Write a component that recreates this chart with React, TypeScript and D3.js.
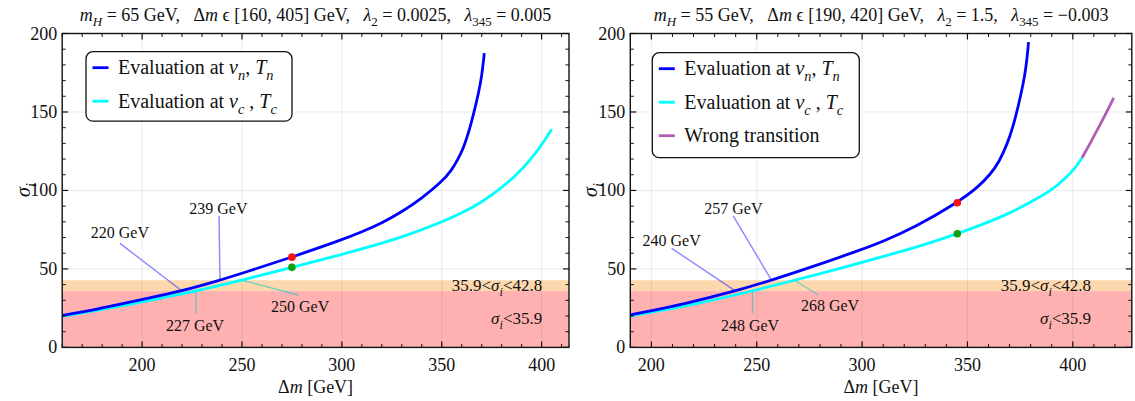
import React from "react";
import * as d3 from "d3";

const W = 1135;
const H = 401;
const FONT = "'Liberation Serif', 'Times New Roman', serif";

// ---------- left panel: m_H = 65 GeV ----------
const leftNucDm = [160, 170, 185, 200, 220, 239, 250, 275, 300, 310, 320, 330, 340, 350, 355, 358, 361, 363.5, 366, 368.5, 370, 371.3];
const leftNucSigma = [20.4, 22.5, 26.5, 30.6, 35.9, 42.8, 47.2, 57.5, 68.5, 73.6, 79.2, 86.3, 95, 105.5, 113, 119.5, 127.5, 137, 149, 162.5, 172.5, 187.5];
const leftCritDm = [160, 185, 200, 227, 250, 275, 300, 320, 335, 350, 360, 370, 380, 390, 398, 405];
const leftCritSigma = [19.8, 25.3, 29.0, 35.9, 42.8, 51, 59.2, 66.2, 72.5, 79.8, 85.5, 92.5, 101.5, 113, 125, 139];
const leftBenchmark = { dm: 275, nuc: 57.5, crit: 51 };

// ---------- right panel: m_H = 55 GeV ----------
const rightNucDm = [190, 200, 215, 240, 257, 278, 300, 309, 325, 345.2, 355, 361, 365, 369, 371.5, 374, 376.5, 378, 379];
const rightNucSigma = [20.8, 23.3, 27.5, 35.9, 42.8, 52, 62.5, 67, 76.5, 92.2, 102, 110.5, 118, 130, 140, 153, 168, 180, 194.5];
const rightCritDm = [190, 200, 220, 248, 268, 290, 309, 330, 345.2, 360, 370, 380, 390, 397, 401, 404.4];
const rightCritSigma = [20, 22.3, 27.3, 35.9, 42.8, 50.5, 57.5, 65.5, 72.4, 79.8, 85.5, 92.5, 100, 108.5, 114, 120.8];
const rightWrongDm = [404.4, 408, 412, 416, 419.4];
const rightWrongSigma = [120.8, 129.5, 139.5, 149.7, 159];
const rightBenchmark = { dm: 345.2, nuc: 92.2, crit: 72.4 };

// ---------- bands ----------
const bandLow = 35.9;
const bandHigh = 42.8;

// ---------- axis ticks ----------
const yMajorTicks = [0, 50, 100, 150, 200];
const xMajorTicks = [200, 250, 300, 350, 400];

const BLUE = "#0000ff";
const CYAN = "#00ffff";
const PURPLE = "#b05db5";
const PEACH = "#fdd7ae";
const PINK = "#ffb1b1";

type Seg = { t: string; i?: boolean; sub?: boolean };

function Rich({ segs, x, y, size, anchor = "start", transform }: {
  segs: Seg[]; x: number; y: number; size: number; anchor?: string; transform?: string;
}) {
  const shift = size * 0.3;
  let inSub = false;
  return (
    <text x={x} y={y} fontSize={size} fontFamily={FONT} textAnchor={anchor}
      transform={transform} style={{ whiteSpace: "pre" }} fill="#111">
      {segs.map((s, k) => {
        let dy = 0;
        if (s.sub && !inSub) dy = shift;
        if (!s.sub && inSub) dy = -shift;
        inSub = !!s.sub;
        return (
          <tspan key={k} dy={dy || undefined} fontStyle={s.i ? "italic" : "normal"}
            fontSize={s.sub ? size * 0.72 : size}>{s.t}</tspan>
        );
      })}
    </text>
  );
}

type Annot = { text: string; at: [number, number]; from: [number, number]; label: [number, number]; color: string };

type PanelCfg = {
  id: string;
  xDomain: [number, number];
  xRange: [number, number];
  title: Seg[];
  curves: { dm: number[]; sigma: number[]; color: string }[];
  bench: { dm: number; nuc: number; crit: number };
  annots: Annot[];
  bandLabelDm: number;
  legend: { x: number; y: number; w: number; h: number; items: { color: string; segs: Seg[] }[] };
  yLabelX: number;
};

function Panel({ cfg }: { cfg: PanelCfg }) {
  const [x0, x1] = cfg.xRange;
  const yTop = 33.5;
  const yBot = 347.4;
  const x = d3.scaleLinear().domain(cfg.xDomain).range(cfg.xRange);
  const y = d3.scaleLinear().domain([0, 200]).range([yBot, yTop]);
  const line = d3.line<[number, number]>().x(d => x(d[0])).y(d => y(d[1])).curve(d3.curveBasis);

  const xMinor = d3.range(Math.ceil(cfg.xDomain[0] / 10) * 10, cfg.xDomain[1] + 0.001, 10).filter(v => v % 50 !== 0);
  const yMinor = d3.range(0, 201, 10).filter(v => v % 50 !== 0);
  const clipId = `clip-${cfg.id}`;
  const midX = (x0 + x1) / 2;

  return (
    <g>
      <defs>
        <clipPath id={clipId}>
          <rect x={x0} y={yTop} width={x1 - x0} height={yBot - yTop} />
        </clipPath>
      </defs>
      <g clipPath={`url(#${clipId})`}>
        <rect x={x0} y={y(bandLow)} width={x1 - x0} height={yBot - y(bandLow)} fill={PINK} />
        <rect x={x0} y={y(bandHigh)} width={x1 - x0} height={y(bandLow) - y(bandHigh)} fill={PEACH} />
        {xMajorTicks.map(v => (
          <line key={`gx${v}`} x1={x(v)} x2={x(v)} y1={yTop} y2={yBot} stroke="#000" strokeOpacity={0.08} strokeWidth={1} />
        ))}
        {[50, 100, 150].map(v => (
          <line key={`gy${v}`} x1={x0} x2={x1} y1={y(v)} y2={y(v)} stroke="#000" strokeOpacity={0.08} strokeWidth={1} />
        ))}
        {cfg.annots.map((a, k) => (
          <line key={`al${k}`} x1={x(a.from[0])} y1={y(a.from[1])} x2={x(a.at[0])} y2={y(a.at[1])}
            stroke={a.color} strokeWidth={1.4} />
        ))}
        {cfg.curves.map((c, k) => (
          <path key={`c${k}`} d={line(c.dm.map((d, j) => [d, c.sigma[j]] as [number, number])) || ""}
            fill="none" stroke={c.color} strokeWidth={2.8} strokeLinecap="butt" />
        ))}
        <circle cx={x(cfg.bench.dm)} cy={y(cfg.bench.nuc)} r={3.8} fill="#ff1010" />
        <circle cx={x(cfg.bench.dm)} cy={y(cfg.bench.crit)} r={3.8} fill="#10a010" />
      </g>

      {cfg.annots.map((a, k) => (
        <text key={`at${k}`} x={x(a.label[0])} y={y(a.label[1]) + 5.5} textAnchor="middle"
          fontFamily={FONT} fontSize={16} fill="#111">{a.text}</text>
      ))}

      <Rich x={x(cfg.bandLabelDm)} y={y((bandLow + bandHigh) / 2) + 5.5} size={17} anchor="end"
        segs={[{ t: "35.9<" }, { t: "σ", i: true }, { t: "i", i: true, sub: true }, { t: "<42.8" }]} />
      <Rich x={x(cfg.bandLabelDm)} y={y(18.7) + 5.5} size={17} anchor="end"
        segs={[{ t: "σ", i: true }, { t: "i", i: true, sub: true }, { t: "<35.9" }]} />

      {/* frame */}
      <rect x={x0} y={yTop} width={x1 - x0} height={yBot - yTop} fill="none" stroke="#111" strokeWidth={1.4} />
      {/* ticks, pointing inward on all four sides */}
      {xMajorTicks.map(v => (
        <g key={`xt${v}`}>
          <line x1={x(v)} x2={x(v)} y1={yBot} y2={yBot - 6} stroke="#111" strokeWidth={1.2} />
          <line x1={x(v)} x2={x(v)} y1={yTop} y2={yTop + 6} stroke="#111" strokeWidth={1.2} />
          <text x={x(v)} y={371} textAnchor="middle" fontFamily={FONT} fontSize={18} fill="#111">{v}</text>
        </g>
      ))}
      {xMinor.map(v => (
        <g key={`xm${v}`}>
          <line x1={x(v)} x2={x(v)} y1={yBot} y2={yBot - 3.5} stroke="#111" strokeWidth={1} />
          <line x1={x(v)} x2={x(v)} y1={yTop} y2={yTop + 3.5} stroke="#111" strokeWidth={1} />
        </g>
      ))}
      {yMajorTicks.map(v => (
        <g key={`yt${v}`}>
          <line x1={x0} x2={x0 + 6} y1={y(v)} y2={y(v)} stroke="#111" strokeWidth={1.2} />
          <line x1={x1} x2={x1 - 6} y1={y(v)} y2={y(v)} stroke="#111" strokeWidth={1.2} />
          <text x={x0 - 5} y={y(v) + 6} textAnchor="end" fontFamily={FONT} fontSize={18} fill="#111">{v}</text>
        </g>
      ))}
      {yMinor.map(v => (
        <g key={`ym${v}`}>
          <line x1={x0} x2={x0 + 3.5} y1={y(v)} y2={y(v)} stroke="#111" strokeWidth={1} />
          <line x1={x1} x2={x1 - 3.5} y1={y(v)} y2={y(v)} stroke="#111" strokeWidth={1} />
        </g>
      ))}

      {/* legend */}
      <rect x={cfg.legend.x} y={cfg.legend.y} width={cfg.legend.w} height={cfg.legend.h} rx={7}
        fill="#fff" stroke="#111" strokeWidth={1.3} />
      {cfg.legend.items.map((it, k) => {
        const ly = cfg.legend.y + 16 + k * 33.5;
        return (
          <g key={`lg${k}`}>
            <line x1={cfg.legend.x + 6.5} x2={cfg.legend.x + 22.5} y1={ly} y2={ly} stroke={it.color} strokeWidth={2.8} />
            <Rich x={cfg.legend.x + 32} y={ly + 6.5} size={20} segs={it.segs} />
          </g>
        );
      })}

      {/* titles and axis labels */}
      <Rich x={midX} y={21} size={18} anchor="middle" segs={cfg.title} />
      <Rich x={midX} y={393} size={18} anchor="middle"
        segs={[{ t: "Δ" }, { t: "m", i: true }, { t: " [GeV]" }]} />
      <Rich x={0} y={0} size={20} anchor="middle" transform={`translate(${cfg.yLabelX},190) rotate(-90)`}
        segs={[{ t: "σ", i: true }, { t: "i", i: true, sub: true }]} />
    </g>
  );
}

const legendNuc: Seg[] = [{ t: "Evaluation at " }, { t: "v", i: true }, { t: "n", i: true, sub: true }, { t: ", " }, { t: "T", i: true }, { t: "n", i: true, sub: true }];
const legendCrit: Seg[] = [{ t: "Evaluation at " }, { t: "v", i: true }, { t: "c", i: true, sub: true }, { t: " , " }, { t: "T", i: true }, { t: "c", i: true, sub: true }];
const legendWrong: Seg[] = [{ t: "Wrong transition" }];

const BLUE_PTR = "rgba(40,40,255,0.55)";
const CYAN_PTR = "rgba(0,200,200,0.55)";

const leftCfg: PanelCfg = {
  id: "left",
  xDomain: [160, 413.7],
  xRange: [62.2, 569],
  title: [
    { t: "m", i: true }, { t: "H", i: true, sub: true }, { t: " = 65 GeV,   Δ" }, { t: "m", i: true },
    { t: " ϵ [160, 405] GeV,   " }, { t: "λ", i: true }, { t: "2", sub: true }, { t: " = 0.0025,   " },
    { t: "λ", i: true }, { t: "345", sub: true }, { t: " = 0.005" },
  ],
  curves: [
    { dm: leftCritDm, sigma: leftCritSigma, color: CYAN },
    { dm: leftNucDm, sigma: leftNucSigma, color: BLUE },
  ],
  bench: leftBenchmark,
  annots: [
    { text: "220 GeV", at: [220, 35.9], from: [188.9, 66.3], label: [188.9, 73.1], color: BLUE_PTR },
    { text: "239 GeV", at: [239, 42.8], from: [238.5, 83.7], label: [238.2, 88.6], color: BLUE_PTR },
    { text: "227 GeV", at: [227, 35.9], from: [227, 21.7], label: [226.5, 13.8], color: CYAN_PTR },
    { text: "250 GeV", at: [250, 42.8], from: [278.2, 33.4], label: [279.1, 25.9], color: CYAN_PTR },
  ],
  bandLabelDm: 400.3,
  legend: { x: 86, y: 51.7, w: 206, h: 69.5, items: [
    { color: BLUE, segs: legendNuc },
    { color: CYAN, segs: legendCrit },
  ] },
  yLabelX: 30,
};

const rightCfg: PanelCfg = {
  id: "right",
  xDomain: [190, 428],
  xRange: [630.3, 1131.8],
  title: [
    { t: "m", i: true }, { t: "H", i: true, sub: true }, { t: " = 55 GeV,   Δ" }, { t: "m", i: true },
    { t: " ϵ [190, 420] GeV,   " }, { t: "λ", i: true }, { t: "2", sub: true }, { t: " = 1.5,   " },
    { t: "λ", i: true }, { t: "345", sub: true }, { t: " = −0.003" },
  ],
  curves: [
    { dm: rightCritDm, sigma: rightCritSigma, color: CYAN },
    { dm: rightWrongDm, sigma: rightWrongSigma, color: PURPLE },
    { dm: rightNucDm, sigma: rightNucSigma, color: BLUE },
  ],
  bench: rightBenchmark,
  annots: [
    { text: "240 GeV", at: [240, 35.9], from: [209.6, 63.1], label: [209.6, 67.8], color: BLUE_PTR },
    { text: "257 GeV", at: [257, 42.8], from: [238.9, 83.7], label: [238.9, 88.6], color: BLUE_PTR },
    { text: "248 GeV", at: [248, 35.9], from: [248, 21.7], label: [246.8, 13.8], color: CYAN_PTR },
    { text: "268 GeV", at: [268, 42.8], from: [279.2, 33.4], label: [284.8, 26.4], color: CYAN_PTR },
  ],
  bandLabelDm: 408.7,
  legend: { x: 652.3, y: 52.7, w: 207, h: 105, items: [
    { color: BLUE, segs: legendNuc },
    { color: CYAN, segs: legendCrit },
    { color: PURPLE, segs: legendWrong },
  ] },
  yLabelX: 597,
};

export default function App() {
  return (
    <svg width={W} height={H} viewBox={`0 0 ${W} ${H}`}
      style={{ position: "absolute", left: 0, top: 0, background: "#fff" }}>
      <rect width={W} height={H} fill="#fff" />
      <Panel cfg={leftCfg} />
      <Panel cfg={rightCfg} />
    </svg>
  );
}
